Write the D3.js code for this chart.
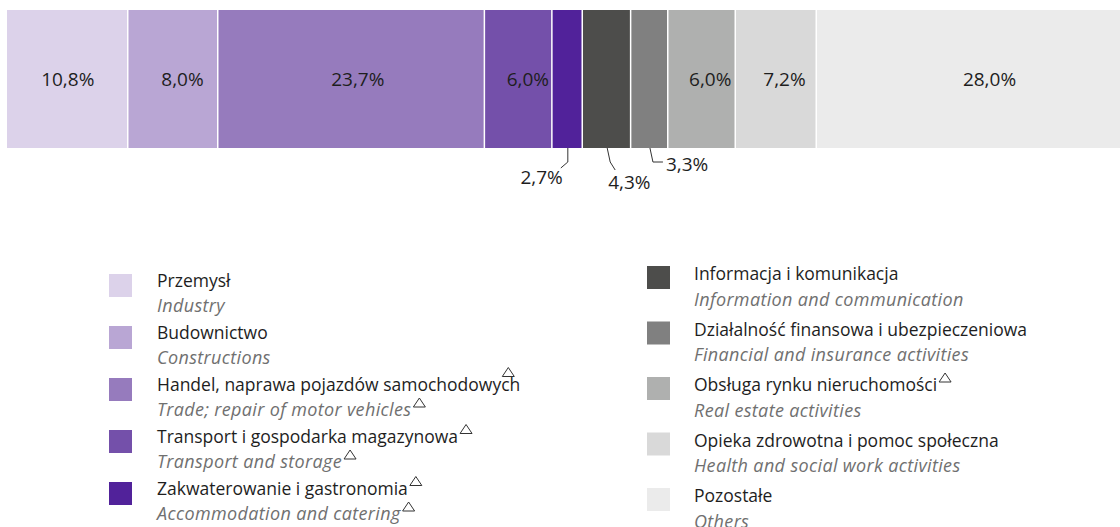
<!DOCTYPE html>
<html>
<head>
<meta charset="utf-8">
<script src="https://cdn.jsdelivr.net/npm/d3@7"></script>
<style>
  html, body { margin: 0; padding: 0; background: #fff; }
  svg { display: block; }
  text { font-family: "Open Sans", "Noto Sans", sans-serif; }
</style>
</head>
<body>
<svg id="chart" width="1120" height="527"></svg>
<script>
// ---- data ----
const categoriesPl = [
  "Przemysł",
  "Budownictwo",
  "Handel, naprawa pojazdów samochodowych",
  "Transport i gospodarka magazynowa",
  "Zakwaterowanie i gastronomia",
  "Informacja i komunikacja",
  "Działalność finansowa i ubezpieczeniowa",
  "Obsługa rynku nieruchomości",
  "Opieka zdrowotna i pomoc społeczna",
  "Pozostałe"
];
const categoriesEn = [
  "Industry",
  "Constructions",
  "Trade; repair of motor vehicles",
  "Transport and storage",
  "Accommodation and catering",
  "Information and communication",
  "Financial and insurance activities",
  "Real estate activities",
  "Health and social work activities",
  "Others"
];
const shares = [10.8, 8.0, 23.7, 6.0, 2.7, 4.3, 3.3, 6.0, 7.2, 28.0];
const markPl = [false, false, true, true, true, false, false, true, false, false];
const markEn = [false, false, true, true, true, false, false, false, false, false];
const colors = ["#dcd2ea", "#b9a6d4", "#967bbd", "#7450aa", "#51229a",
                "#4d4d4b", "#808080", "#afb0af", "#d9d9d9", "#ebebeb"];

// ---- layout ----
const fmt = v => v.toFixed(1).replace(".", ",") + "%";
const svg = d3.select("#chart");
const barTop = 10, barBottom = 148;
const x = d3.scaleLinear().domain([0, 100]).range([7, 1132]);

// cumulative stack
const stack = [];
let acc = 0;
shares.forEach((v, i) => { stack.push({ i, v, x0: acc, x1: acc + v }); acc += v; });

// inside-label nudges (px), callouts for narrow segments
const insideNudge = [0, 9, 6, 9, null, null, null, 8, 8, 15];
const callouts = {
  4: { path: [[0, 0], [0, 14], [-7, 20]], tx: -5, ty: 36, anchor: "end" },
  5: { path: [[0, 0], [3, 14], [8, 22]], tx: 1, ty: 41, anchor: "start" },
  6: { path: [[0, 0], [3, 14], [13, 14]], tx: 16, ty: 23, anchor: "start" }
};

const bar = svg.append("g");
bar.selectAll("rect").data(stack).join("rect")
  .attr("x", d => x(d.x0))
  .attr("y", barTop)
  .attr("width", d => Math.max(0, x(d.x1) - x(d.x0) - 1.5))
  .attr("height", barBottom - barTop)
  .attr("fill", d => colors[d.i]);

bar.selectAll("text.in").data(stack.filter(d => insideNudge[d.i] !== null)).join("text")
  .attr("class", "in")
  .attr("x", d => (x(d.x0) + x(d.x1)) / 2 + insideNudge[d.i])
  .attr("y", (barTop + barBottom) / 2 + 7)
  .attr("text-anchor", "middle")
  .attr("font-size", 19)
  .attr("fill", "#1e1e1e")
  .text(d => fmt(d.v));

const line = d3.line();
stack.filter(d => callouts[d.i]).forEach(d => {
  const c = callouts[d.i];
  const cx = (x(d.x0) + x(d.x1)) / 2;
  bar.append("path")
    .attr("d", line(c.path.map(p => [cx + p[0], barBottom + p[1]])))
    .attr("fill", "none")
    .attr("stroke", "#333")
    .attr("stroke-width", 1);
  bar.append("text")
    .attr("x", cx + c.tx)
    .attr("y", barBottom + c.ty)
    .attr("text-anchor", c.anchor)
    .attr("font-size", 19)
    .attr("fill", "#1e1e1e")
    .text(fmt(d.v));
});

// ---- legend ----
const legendCols = [
  { sqX: 109, txX: 157, y0: 274, step: 52, off: 12.5, idx: [0, 1, 2, 3, 4] },
  { sqX: 647, txX: 694, y0: 266, step: 55.5, off: 14, idx: [5, 6, 7, 8, 9] }
];
const triangle = (g, xx, baseY) => {
  g.append("path")
    .attr("d", `M${xx},${baseY} L${xx + 12},${baseY} L${xx + 6},${baseY - 9} Z`)
    .attr("fill", "none").attr("stroke", "#333").attr("stroke-width", 1);
};
const lg = svg.append("g");
legendCols.forEach(col => {
  col.idx.forEach((i, k) => {
    const top = col.y0 + k * col.step;
    lg.append("rect")
      .attr("x", col.sqX).attr("y", top)
      .attr("width", 23).attr("height", 23)
      .attr("fill", colors[i]);
    const y1 = top + col.off, y2 = top + col.off + 25.5;
    const t1 = lg.append("text")
      .attr("x", col.txX).attr("y", y1)
      .attr("font-size", 17.5).attr("fill", "#1e1e1e")
      .text(categoriesPl[i]);
    const t2 = lg.append("text")
      .attr("x", col.txX).attr("y", y2)
      .attr("font-size", 18).attr("letter-spacing", 0.35)
      .attr("font-style", "italic").attr("fill", "#707070")
      .text(categoriesEn[i]);
    if (markPl[i]) {
      const w = t1.node().getComputedTextLength();
      const special = i === 2;
      triangle(lg, col.txX + w + (special ? -18 : 2), y1 - (special ? 14 : 9));
    }
    if (markEn[i]) {
      const w = t2.node().getComputedTextLength();
      triangle(lg, col.txX + w + 2, y2 - 9);
    }
  });
});
</script>
</body>
</html>
